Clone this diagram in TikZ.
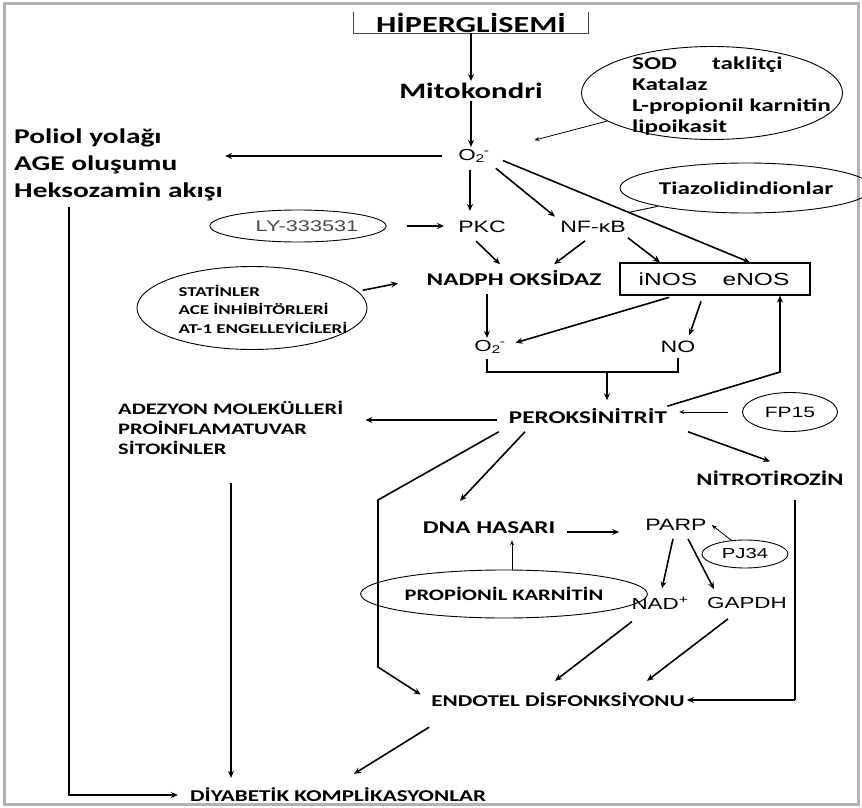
\documentclass[tikz,border=0pt]{standalone}
\usepackage{fontspec}
\usepackage{tikz}
\usetikzlibrary{arrows.meta,shapes.geometric}
\newfontfamily\calb[FakeStretch=1.4]{Carlito}
\newfontfamily\arl[FakeStretch=1.4]{Liberation Sans}
\newcommand\fsz[2]{\fontsize{#1}{#2}\selectfont}
\newcommand\otwo{O\textsubscript{2}\kern-1pt\textsuperscript{-}}

\begin{document}
\begin{tikzpicture}[x=1pt,y=-1pt,
    arr/.style={-{Stealth[length=7pt,width=6pt]},line width=1.6pt},
    thinarr/.style={-{Stealth[length=5pt,width=4pt]},line width=0.8pt},
    ell/.style={draw,ellipse,line width=0.9pt,inner sep=0pt},
    cb/.style={inner sep=2pt,font=\calb\bfseries\fsz{#1}{#1}},
    ar/.style={inner sep=2pt,font=\arl\fsz{#1}{#1}}]
    \useasboundingbox (0,0) rectangle (862,808);
    \draw[gray!60,line width=3pt] (4,4) rectangle (858,804);

    % Top of the chain
    \node[cb=23,minimum width=235pt,minimum height=21pt,inner sep=0pt] (hyp) at (471,22.5) {HİPERGLİSEMİ};
    \draw[line width=0.8pt,black!70] (hyp.north west) |- (hyp.south east) -- (hyp.north east);
    \node[cb=22] (mito) at (471,91) {Mitokondri};
    \node[ar=16] (o2a) at (474,156) {\otwo};
    \draw[arr,line width=1.2pt] (hyp.south) -- (mito.north);
    \draw[arr,line width=1.2pt] (mito.south) -- (mito.south |- o2a.north);

    % Left side block
    \node[font=\calb\bfseries\fsz{21}{27},align=left,anchor=west,inner sep=0pt] (poliol) at (14,165) {Poliol yolağı\\AGE oluşumu\\Heksozamin akışı};
    \draw[arr,shorten <=14pt,shorten >=2pt] (o2a.west) -- (o2a.west -| poliol.east);
    \coordinate (lv) at (69,207);

    % Antioxidants
    \node[ell,minimum width=261pt,minimum height=93pt] (sod) at (712,93) {};
    \node[font=\calb\bfseries\fsz{18}{21},align=left,anchor=west,inner sep=0pt] (sodtxt) at (632,96) {SOD\hspace{35pt}taklitçi\\Katalaz\\L-propionil karnitin\\lipoikasit};
    \draw[thinarr,shorten >=44pt] (sod.195) -- (o2a);

    \node[ell,cb=18,minimum width=197pt,minimum height=50pt] (tiaz) at (746,188) {Tiazolidindionlar};
    \node[ell,ar=15.5,text=black!70,minimum width=135pt,minimum height=32pt] (ly) at (298,226) {\hspace{18pt}LY-333531};

    % PKC / NF-kB level
    \node[ar=16.5] (pkc) at (482,227) {PKC};
    \node[ar=16.5] (nfkb) at (593,227) {NF-κB};
    \draw[arr,shorten <=20pt,shorten >=12pt] (ly.east) -- (ly.east -| pkc.west);
    \draw[arr,shorten <=5pt,shorten >=8pt] ([xshift=-4pt]o2a.south) -- ([xshift=-4pt]o2a.south |- pkc.north);
    \draw[arr,shorten <=5pt,shorten >=4pt] (o2a.south east) -- (nfkb.north west);

    \node[cb=18] (nadph) at (514,278) {NADPH OKSİDAZ};
    \node[draw,line width=1.2pt,minimum width=190pt,minimum height=32pt] (nos) at (715,279) {};
    \node[ar=17.5] (inos) at (668,279) {iNOS};
    \node[ar=17.5] (enos) at (756,279) {eNOS};
    \draw[arr,shorten <=12pt] (o2a.east) -- coordinate[pos=0.53] (tz) ([xshift=35pt]nos.north);
    \draw[line width=0.9pt] (tiaz) -- (tz);
    \draw[arr] ([xshift=-6pt,yshift=-6pt]pkc.south) -- ([xshift=-14pt,yshift=4pt]nadph.north);
    \draw[arr] ([xshift=-8pt,yshift=-6pt]nfkb.south) -- ([xshift=40pt,yshift=4pt]nadph.north);
    \draw[arr] ([yshift=-3pt]nfkb.south east) -- ([xshift=-55pt]nos.north);

    \node[ell,minimum width=230pt,minimum height=83pt] (stat) at (252,308) {};
    \node[font=\calb\bfseries\fsz{13.5}{18.5},align=left,inner sep=0pt] (stattxt) at (263,309) {STATİNLER\\ACE İNHİBİTÖRLERİ\\AT-1 ENGELLEYİCİLERİ};
    \draw[arr,shorten <=5pt,shorten >=27pt] (stat.9) -- (nadph.west);

    % O2- and NO
    \node[ar=16] (o2b) at (490,347) {\otwo};
    \node[ar=16.5] (no) at (678,347) {NO};
    \draw[arr,shorten <=6pt] ([xshift=-3pt]o2b |- nadph.south) -- ([xshift=-3pt]o2b.north);
    \draw[arr,shorten <=6pt,shorten >=8pt] ([xshift=-40pt]nos.south) -- ([yshift=2pt]o2b.east);
    \draw[arr,shorten <=6pt,shorten >=4pt] ([xshift=-12pt]nos.south) -- ([xshift=10pt]no.north);
    \coordinate (brk) at (607,372);
    \draw[line width=1.6pt] ([xshift=-3pt,yshift=-3pt]o2b.south) |- (brk) -| ([yshift=-3pt]no.south);

    % Peroxynitrite
    \node[cb=18] (perox) at (588,416) {PEROKSİNİTRİT};
    \draw[arr,shorten >=6pt] (brk) -- (brk |- perox.north);
    \coordinate (fb) at (780,372);
    \draw[arr] ([xshift=-2pt]perox.north east) -- (fb) -- (fb |- nos.south);
    \node[ell,ar=15,minimum width=95pt,minimum height=39pt] (fp) at (790,412) {FP15};
    \draw[thinarr,shorten <=14pt,shorten >=10pt] (fp.west) -- (fp.west -| perox.east);

    \node[font=\calb\bfseries\fsz{16}{20},align=left,anchor=west,inner sep=0pt] (adez) at (118,428) {ADEZYON MOLEKÜLLERİ\\PROİNFLAMATUVAR\\SİTOKİNLER};
    \draw[arr,shorten <=10pt,shorten >=22pt] ([yshift=-4pt]perox.west) -- ([yshift=-4pt]perox.west -| adez.east);
    \coordinate (av) at (231,483);

    % Lower part
    \node[cb=18] (dna) at (489,528) {DNA HASARI};
    \node[cb=17.5] (nitro) at (770,478) {NİTROTİROZİN};
    \node[ar=16.5] (parp) at (676,525) {PARP};
    \node[ell,ar=14.5,minimum width=86pt,minimum height=28pt] (pj) at (745,554) {PJ34};
    \node[ar=16] (nad) at (660,603) {NAD\textsuperscript{+}};
    \node[ar=16] (gapdh) at (747,603) {GAPDH};
    \node[ell,cb=16,minimum width=228pt,minimum height=48pt] (prop) at (504,594) {PROPİONİL KARNİTİN};
    \node[cb=16.5] (endo) at (558,700) {ENDOTEL DİSFONKSİYONU};
    \node[cb=16.5] (diab) at (338,795) {DİYABETİK KOMPLİKASYONLAR};

    \draw[arr] ([xshift=-63pt,yshift=-6pt]perox.south) -- ([xshift=-29pt,yshift=19pt]dna.north);
    \draw[arr] ([xshift=100pt,yshift=-6pt]perox.south) -- ([yshift=7pt]nitro.north);
    \coordinate (b1) at (378,500);
    \coordinate (b2) at (378,667);
    \draw[arr,shorten >=10pt] ([xshift=-8pt,yshift=-6pt]perox.south west) -- (b1) -- (b2) -- (endo.west);
    \coordinate (nt) at (795,500);
    \draw[line width=2.8pt] (nt) -- (nt |- endo.east);
    \draw[arr] (nt |- endo.east) -- (endo.east);

    \draw[arr,shorten <=10pt,shorten >=24pt] ([yshift=-4pt]dna.east) -- ([yshift=-4pt]dna.east -| parp.west);
    \draw[thinarr] ([xshift=8pt]prop.north) -- ([xshift=23pt,yshift=-4pt]dna.south);
    \draw[thinarr] (pj.135) -- ([xshift=3pt]parp.east);
    \draw[arr] ([xshift=-3pt,yshift=-6pt]parp.south) -- ([xshift=2pt,yshift=6pt]nad.north);
    \draw[arr] ([xshift=12pt,yshift=-6pt]parp.south) -- ([xshift=-33pt,yshift=6pt]gapdh.north);
    \draw[arr] ([xshift=-28pt,yshift=-10pt]nad.south) -- ([xshift=-3pt,yshift=10pt]endo.north);
    \draw[arr] ([xshift=-19pt,yshift=-8pt]gapdh.south) -- ([xshift=89pt,yshift=10pt]endo.north);
    \draw[arr] ([yshift=-18pt]endo.south west) -- ([xshift=16pt,yshift=12pt]diab.north);
    \draw[arr,shorten >=8pt] (av) -- (av |- diab.north);
    \draw[arr,shorten >=10pt] (lv) |- (diab.west);
\end{tikzpicture}
\end{document}
